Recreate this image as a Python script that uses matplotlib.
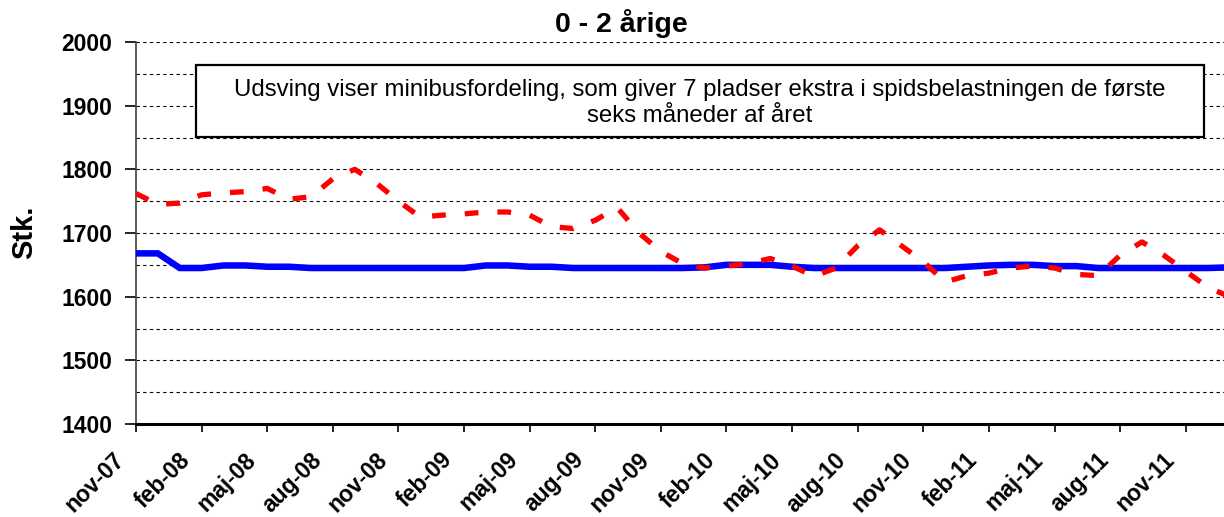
import matplotlib
matplotlib.use('Agg')
import matplotlib.pyplot as plt
from matplotlib.patches import Rectangle
from matplotlib.ticker import MultipleLocator
from matplotlib.transforms import ScaledTranslation

months = ['nov-07', 'dec-07', 'jan-08', 'feb-08', 'mar-08', 'apr-08', 'maj-08', 'jun-08',
          'jul-08', 'aug-08', 'sep-08', 'okt-08', 'nov-08', 'dec-08', 'jan-09', 'feb-09',
          'mar-09', 'apr-09', 'maj-09', 'jun-09', 'jul-09', 'aug-09', 'sep-09', 'okt-09',
          'nov-09', 'dec-09', 'jan-10', 'feb-10', 'mar-10', 'apr-10', 'maj-10', 'jun-10',
          'jul-10', 'aug-10', 'sep-10', 'okt-10', 'nov-10', 'dec-10', 'jan-11', 'feb-11',
          'mar-11', 'apr-11', 'maj-11', 'jun-11', 'jul-11', 'aug-11', 'sep-11', 'okt-11',
          'nov-11', 'dec-11', 'jan-12']

# blue: capacity (solid)
kapacitet = [1668, 1668, 1645, 1645, 1649, 1649, 1647, 1647, 1645, 1645,
             1645, 1645, 1645, 1645, 1645, 1645, 1649, 1649, 1647, 1647,
             1645, 1645, 1645, 1645, 1645, 1645, 1646, 1650, 1650, 1650,
             1647, 1645, 1645, 1645, 1645, 1645, 1645, 1645, 1647, 1649,
             1650, 1650, 1648, 1648, 1645, 1645, 1645, 1645, 1645, 1645, 1646]

# red: demand (dashed)
behov = [1762, 1745, 1747, 1760, 1763, 1765, 1770, 1753, 1757, 1785,
         1800, 1778, 1750, 1725, 1728, 1730, 1733, 1733, 1728, 1710,
         1707, 1720, 1740, 1700, 1671, 1652, 1645, 1648, 1652, 1660,
         1648, 1632, 1645, 1680, 1705, 1680, 1655, 1623, 1633, 1637,
         1645, 1648, 1645, 1635, 1633, 1665, 1686, 1665, 1640, 1615, 1600]

tick_labels = months[::3]

title = '0 - 2 årige'
ylabel = 'Stk.'
note = ('Udsving viser minibusfordeling, som giver 7 pladser ekstra i spidsbelastningen de første\n'
        'seks måneder af året')

narrow = ['Liberation Sans Narrow', 'Liberation Sans', 'DejaVu Sans']
arial = ['Liberation Sans', 'DejaVu Sans']

W, H = 1224, 517
fig = plt.figure(figsize=(W / 100, H / 100), dpi=100)
ax = fig.add_axes([136 / W, (H - 424) / H, 1088 / W, 382 / H])

x = list(range(len(months)))
ax.plot(x, kapacitet, color='#0000FF', lw=4.7, solid_joinstyle='miter', zorder=3)
ax.plot(x, behov, color='#FF0000', lw=3.8, linestyle=(0, (2.6, 3.6)), zorder=4)

ax.set_xlim(0, 49.75)
ax.set_ylim(1400, 2000)
ax.set_yticks(range(1400, 2001, 100))
ax.yaxis.set_minor_locator(MultipleLocator(50))
ax.grid(axis='y', which='both', color='black', linestyle=(0, (3, 3)), lw=0.8)
ax.set_axisbelow(True)
ax.tick_params(axis='y', which='minor', length=0)
ax.tick_params(axis='y', which='major', length=8, width=1.2, pad=9)
ax.tick_params(axis='x', length=6, width=1.2, pad=0)

ax.set_xticks(x[::3])
ax.set_xticklabels(tick_labels, rotation=45, ha='right', va='center', rotation_mode='anchor',
                   fontweight='bold', fontsize=16.5, family=arial)
offset = ScaledTranslation(-15 / 100, -24 / 100, fig.dpi_scale_trans)
for lab in ax.get_xticklabels():
    lab.set_transform(lab.get_transform() + offset)
for lab in ax.get_yticklabels():
    lab.set_fontweight('bold')
    lab.set_fontsize(16.5)
    lab.set_family(arial)

for s in ['top', 'right']:
    ax.spines[s].set_visible(False)
ax.spines['left'].set_color('#404040')
ax.spines['left'].set_linewidth(1.2)
ax.spines['bottom'].set_color('black')
ax.spines['bottom'].set_linewidth(2.2)

fig.text(24 / W, 1 - 232 / H, ylabel, rotation=90, ha='center', va='center',
         fontsize=21, fontweight='bold', family=arial)
fig.text(621 / W, 1 - 24 / H, title, ha='center', va='center',
         fontsize=20.5, fontweight='bold', family=narrow)

box = Rectangle((196 / W, 1 - 137 / H), (1204 - 196) / W, (137 - 65) / H,
                transform=fig.transFigure, facecolor='white', edgecolor='black',
                lw=1.6, zorder=5)
fig.add_artist(box)
fig.text(700 / W, 1 - 103 / H, note, ha='center', va='center', fontsize=17.3,
         family=arial, linespacing=1.2, zorder=6)

fig.savefig('out.png', dpi=100)
